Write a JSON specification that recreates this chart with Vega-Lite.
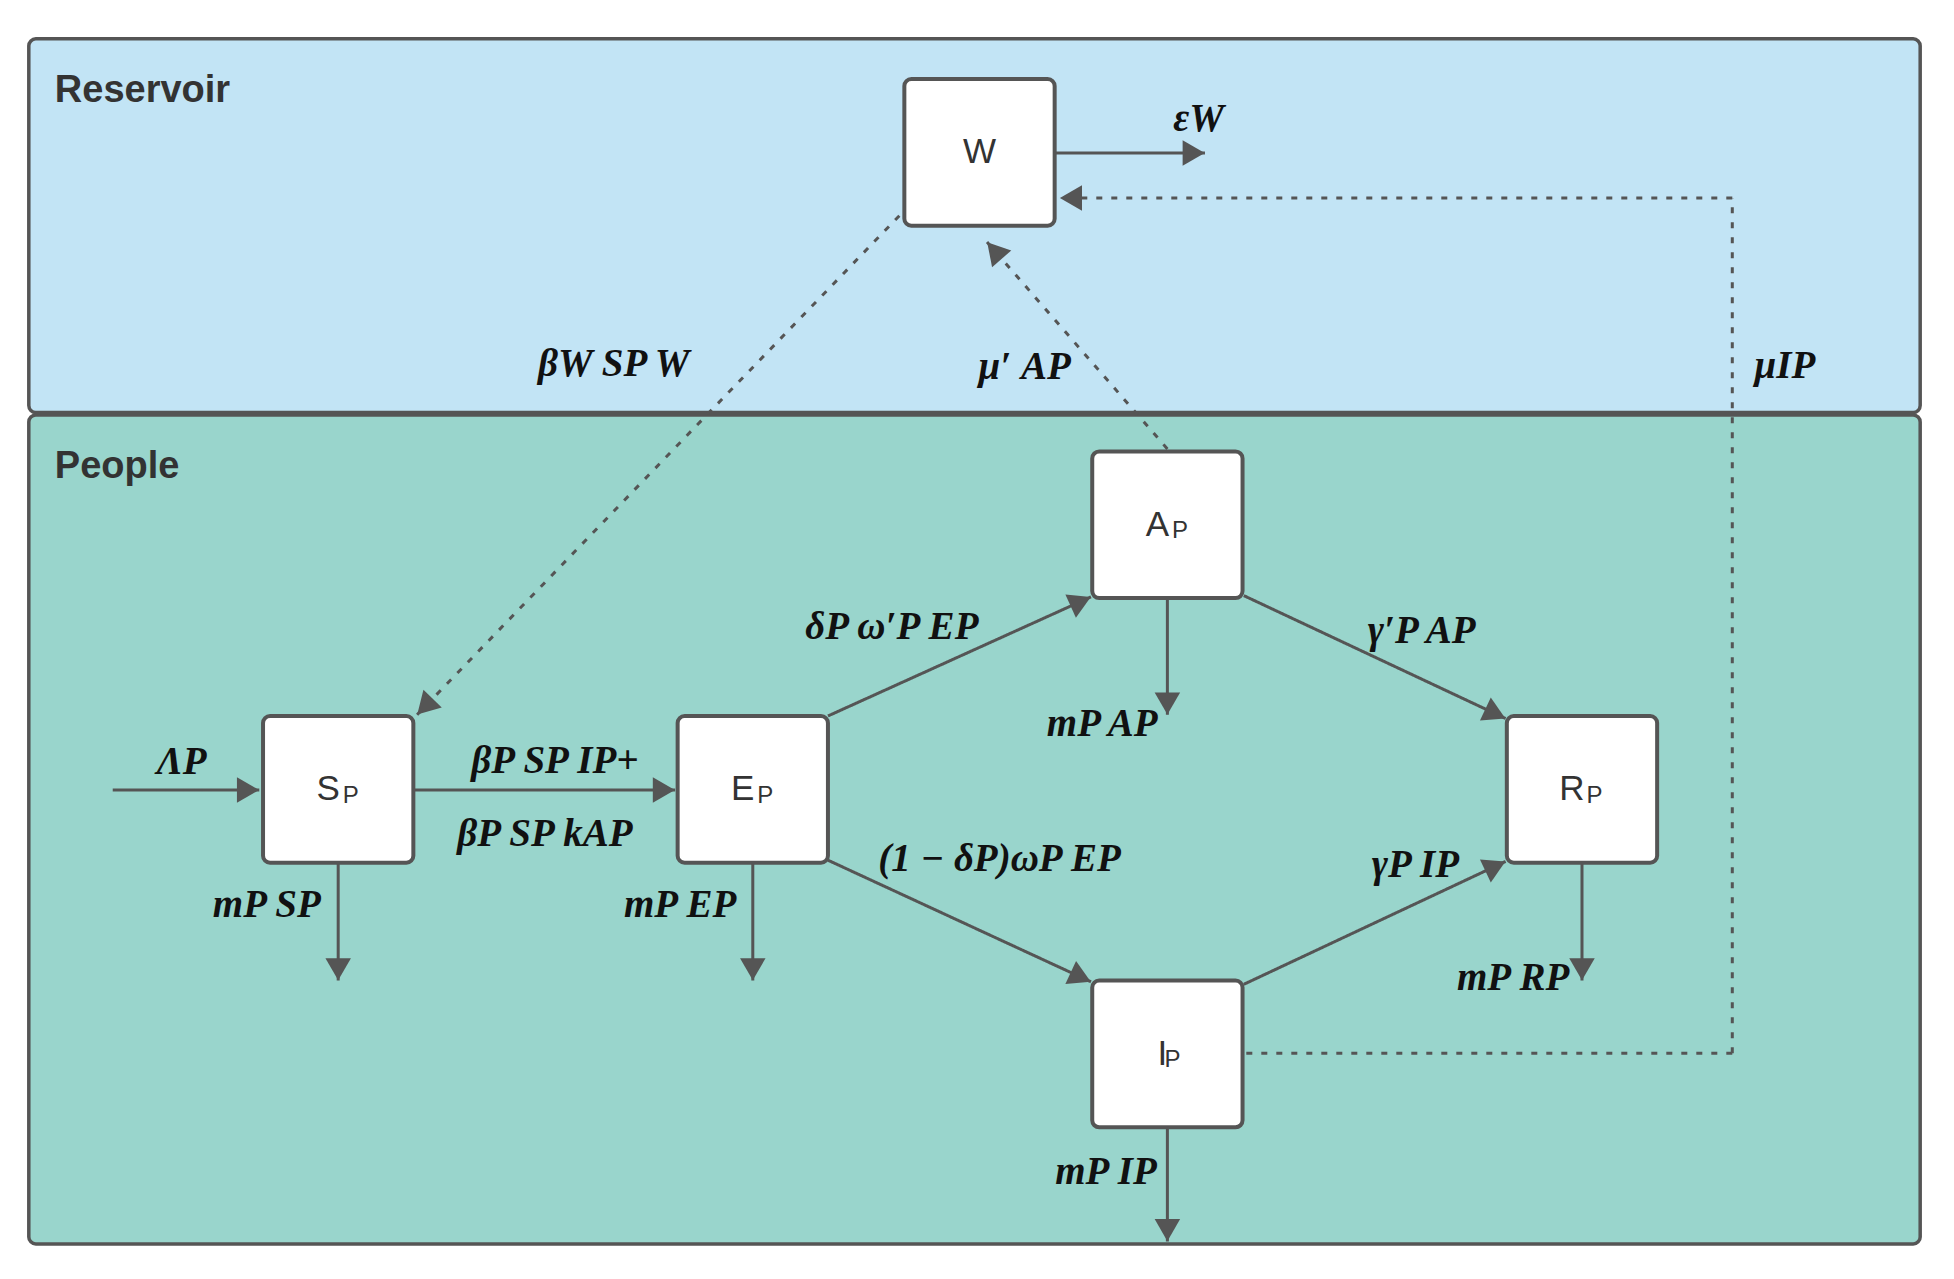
{
  "$schema": "https://vega.github.io/schema/vega-lite/v6.json",
  "width": 1954,
  "height": 1279,
  "autosize": {"type": "fit", "contains": "padding"},
  "padding": 0,
  "background": "white",
  "config": {"view": {"stroke": null}},
  "datasets": {
    "panels": [
      {"name": "Reservoir", "x": 23, "y": 31, "x2": 1533, "y2": 329, "fill": "reservoir"},
      {"name": "People", "x": 23, "y": 331, "x2": 1533, "y2": 992, "fill": "people"}
    ],
    "boxes": [
      {"id": "W", "x": 722, "y": 63, "x2": 842, "y2": 180, "main": "W", "sub": ""},
      {"id": "A", "x": 872, "y": 360, "x2": 992, "y2": 477, "main": "A", "sub": "P"},
      {"id": "S", "x": 210, "y": 571, "x2": 330, "y2": 688, "main": "S", "sub": "P"},
      {"id": "E", "x": 541, "y": 571, "x2": 661, "y2": 688, "main": "E", "sub": "P"},
      {"id": "R", "x": 1203, "y": 571, "x2": 1323, "y2": 688, "main": "R", "sub": "P"},
      {"id": "I", "x": 872, "y": 782, "x2": 992, "y2": 899, "main": "I", "sub": "P"}
    ],
    "segs": [
      {"x": 843, "y": 122, "x2": 962, "y2": 122, "style": "solid", "head": true},
      {"x": 90, "y": 630, "x2": 207, "y2": 630, "style": "solid", "head": true},
      {"x": 331, "y": 630, "x2": 539, "y2": 630, "style": "solid", "head": true},
      {"x": 270, "y": 689, "x2": 270, "y2": 782, "style": "solid", "head": true},
      {"x": 601, "y": 689, "x2": 601, "y2": 782, "style": "solid", "head": true},
      {"x": 661, "y": 571, "x2": 871, "y2": 476, "style": "solid", "head": true},
      {"x": 661, "y": 686, "x2": 871, "y2": 783, "style": "solid", "head": true},
      {"x": 932, "y": 478, "x2": 932, "y2": 570, "style": "solid", "head": true},
      {"x": 993, "y": 475, "x2": 1202, "y2": 573, "style": "solid", "head": true},
      {"x": 993, "y": 785, "x2": 1202, "y2": 687, "style": "solid", "head": true},
      {"x": 1263, "y": 689, "x2": 1263, "y2": 782, "style": "solid", "head": true},
      {"x": 932, "y": 900, "x2": 932, "y2": 990, "style": "solid", "head": true},
      {"x": 718, "y": 172, "x2": 333, "y2": 570, "style": "dash", "head": true},
      {"x": 932, "y": 358, "x2": 788, "y2": 193, "style": "dash", "head": true},
      {"x": 995, "y": 840, "x2": 1383, "y2": 840, "style": "dash", "head": false},
      {"x": 1383, "y": 840, "x2": 1383, "y2": 158, "style": "dash", "head": false},
      {"x": 1383, "y": 158, "x2": 846, "y2": 158, "style": "dash", "head": true}
    ],
    "labels": [
      {"x": 957, "y": 95, "t": "εW"},
      {"x": 490, "y": 290, "t": "βW SP W"},
      {"x": 818, "y": 293, "t": "μ′ AP"},
      {"x": 1425, "y": 292, "t": "μIP"},
      {"x": 145, "y": 608, "t": "ΛP"},
      {"x": 443, "y": 607, "t": "βP SP IP+"},
      {"x": 435, "y": 665, "t": "βP SP kAP"},
      {"x": 213, "y": 722, "t": "mP SP"},
      {"x": 543, "y": 722, "t": "mP EP"},
      {"x": 712, "y": 500, "t": "δP ω′P EP"},
      {"x": 880, "y": 577, "t": "mP AP"},
      {"x": 798, "y": 685, "t": "(1 − δP)ωP EP"},
      {"x": 1135, "y": 503, "t": "γ′P AP"},
      {"x": 1130, "y": 690, "t": "γP IP"},
      {"x": 1208, "y": 780, "t": "mP RP"},
      {"x": 883, "y": 935, "t": "mP IP"}
    ]
  },
  "encoding": {
    "x": {"field": "x", "type": "quantitative", "scale": {"domain": [0, 1560], "nice": false, "zero": false}, "axis": null},
    "y": {"field": "y", "type": "quantitative", "scale": {"domain": [0, 1020], "nice": false, "zero": false, "reverse": true}, "axis": null}
  },
  "layer": [
    {
      "data": {"name": "panels"},
      "mark": {"type": "rect", "stroke": "#555555", "strokeWidth": 3.5, "cornerRadius": 7},
      "encoding": {
        "x2": {"field": "x2"},
        "y2": {"field": "y2"},
        "fill": {"field": "fill", "type": "nominal", "scale": {"domain": ["reservoir", "people"], "range": ["#c2e4f5", "#99d5cc"]}, "legend": null}
      }
    },
    {
      "data": {"name": "panels"},
      "mark": {"type": "text", "align": "left", "baseline": "middle", "dx": 26, "dy": 52, "font": "Liberation Sans", "fontWeight": "bold", "fontSize": 38, "fill": "#333333"},
      "encoding": {"text": {"field": "name"}}
    },
    {
      "data": {"name": "segs"},
      "mark": {"type": "rule", "strokeWidth": 3, "color": "#555555"},
      "encoding": {
        "x2": {"field": "x2"},
        "y2": {"field": "y2"},
        "strokeDash": {"field": "style", "type": "nominal", "scale": {"domain": ["solid", "dash"], "range": [[1, 0], [6, 9]]}, "legend": null}
      }
    },
    {
      "data": {"name": "segs"},
      "transform": [
        {"filter": "datum.head"},
        {"calculate": "sqrt(pow(datum.x2-datum.x,2)+pow(datum.y2-datum.y,2))", "as": "len"},
        {"calculate": "(datum.x2-datum.x)/datum.len", "as": "ux"},
        {"calculate": "(datum.y2-datum.y)/datum.len", "as": "uy"},
        {"calculate": "atan2(datum.ux, -datum.uy)*180/PI", "as": "ang"},
        {"calculate": "datum.x2-9*datum.ux", "as": "hx"},
        {"calculate": "datum.y2-9*datum.uy", "as": "hy"}
      ],
      "mark": {"type": "point", "shape": "triangle-up", "filled": true, "size": 650, "color": "#555555", "opacity": 1},
      "encoding": {
        "x": {"field": "hx", "type": "quantitative"},
        "y": {"field": "hy", "type": "quantitative"},
        "angle": {"field": "ang", "type": "quantitative", "scale": null}
      }
    },
    {
      "data": {"name": "boxes"},
      "mark": {"type": "rect", "fill": "white", "stroke": "#555555", "strokeWidth": 4, "cornerRadius": 7},
      "encoding": {"x2": {"field": "x2"}, "y2": {"field": "y2"}}
    },
    {
      "data": {"name": "boxes"},
      "transform": [
        {"calculate": "(datum.x+datum.x2)/2 - (datum.sub == '' ? 0 : (datum.main == 'I' ? 4 : 8))", "as": "cx"},
        {"calculate": "(datum.y+datum.y2)/2", "as": "cy"}
      ],
      "mark": {"type": "text", "font": "Liberation Sans", "fontSize": 35, "fill": "#333333", "baseline": "middle", "align": "center"},
      "encoding": {
        "x": {"field": "cx", "type": "quantitative"},
        "y": {"field": "cy", "type": "quantitative"},
        "text": {"field": "main"}
      }
    },
    {
      "data": {"name": "boxes"},
      "transform": [
        {"calculate": "(datum.x+datum.x2)/2 + (datum.main == 'I' ? 4 : 10)", "as": "cx"},
        {"calculate": "(datum.y+datum.y2)/2 + 5", "as": "cy"}
      ],
      "mark": {"type": "text", "font": "Liberation Sans", "fontSize": 24, "fill": "#333333", "baseline": "middle", "align": "center"},
      "encoding": {
        "x": {"field": "cx", "type": "quantitative"},
        "y": {"field": "cy", "type": "quantitative"},
        "text": {"field": "sub"}
      }
    },
    {
      "data": {"name": "labels"},
      "mark": {"type": "text", "font": "Liberation Serif", "fontStyle": "italic", "fontWeight": "bold", "fontSize": 39, "fill": "#111111", "baseline": "middle", "align": "center"},
      "encoding": {"text": {"field": "t"}}
    }
  ]
}
